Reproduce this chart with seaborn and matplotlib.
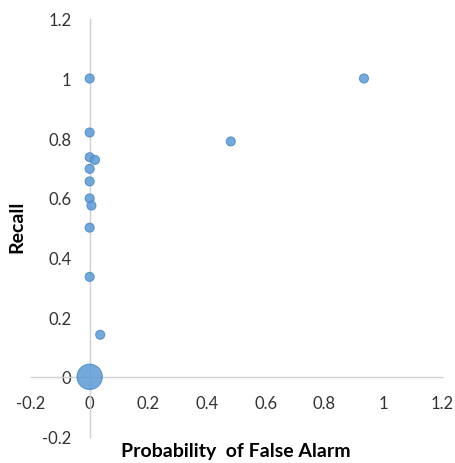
import matplotlib
matplotlib.use("Agg")
import matplotlib.pyplot as plt
import seaborn as sns
import pandas as pd

# Detector results: false-alarm probability vs. recall, bubble size = number of runs
false_alarm = [0.0, 0.0, 0.0, 0.018, 0.0, 0.0, 0.0, 0.006, 0.0, 0.0, 0.036, 0.0, 0.481, 0.935]
recall = [1.0, 0.819, 0.736, 0.727, 0.697, 0.655, 0.598, 0.574, 0.5, 0.335, 0.141, 0.0, 0.789, 1.0]
runs = [1, 1, 1, 1, 1, 1, 1, 1, 1, 1, 1, 8, 1, 1]

tick_values = [-0.2, 0.0, 0.2, 0.4, 0.6, 0.8, 1.0, 1.2]
tick_labels = ["-0.2", "0", "0.2", "0.4", "0.6", "0.8", "1", "1.2"]

df = pd.DataFrame({"pfa": false_alarm, "recall": recall, "runs": runs})

sns.set_style("white")
plt.rcParams["font.family"] = ["Lato", "DejaVu Sans"]

fig = plt.figure(figsize=(4.55, 4.64), dpi=100)
ax = fig.add_axes([31 / 455, 26.5 / 464, 410.7 / 455, 417.7 / 464])

sns.scatterplot(data=df, x="pfa", y="recall", size="runs", sizes=(42, 330),
                color="#5B9BD5", alpha=0.85, edgecolor="#4A8AC9", linewidth=0.8,
                legend=False, ax=ax, zorder=3)

ax.set_xlim(-0.2, 1.2)
ax.set_ylim(-0.2, 1.2)
ax.set_xticks(tick_values)
ax.set_xticklabels(tick_labels)
ax.set_yticks(tick_values)
ax.set_yticklabels(tick_labels)

for side in ("top", "right"):
    ax.spines[side].set_visible(False)
for side in ("left", "bottom"):
    ax.spines[side].set_position(("data", 0))
    ax.spines[side].set_color("#D0D0D0")
    ax.spines[side].set_linewidth(1.0)
    ax.spines[side].set_zorder(1)

ax.tick_params(axis="both", length=0, labelsize=12, labelcolor="#333333")
ax.tick_params(axis="x", pad=13)
ax.tick_params(axis="y", pad=13)
ax.set_xlabel("")
ax.set_ylabel("")
ax.patch.set_alpha(0)

fig.text(236 / 455, 1 - 452 / 464, "Probability  of False Alarm", ha="center", va="center",
         fontsize=14, fontweight="bold", color="black")
fig.text(17 / 455, 1 - 227 / 464, "Recall", ha="center", va="center", rotation=90,
         fontsize=14, fontweight="bold", color="black")

fig.savefig("out.png", dpi=100)
